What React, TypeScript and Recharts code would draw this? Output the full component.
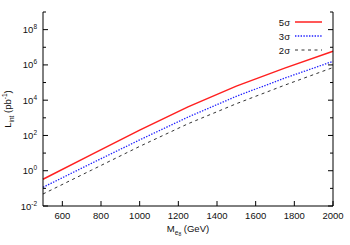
import { Line, LineChart, XAxis, YAxis } from "recharts";

// excited lepton mass (GeV)
const masses = [500, 750, 1000, 1250, 1500, 1750, 2000];
// required integrated luminosity (pb^-1)
const lum5sigma = [0.33, 8.1, 200, 4200, 63000, 660000, 5.9e6];
const lum3sigma = [0.115, 2.6, 56, 1100, 16600, 178000, 1.6e6];
const lum2sigma = [0.048, 1.07, 24, 460, 6300, 71000, 7.1e5];

const xTicks = [600, 800, 1000, 1200, 1400, 1600, 1800, 2000];
const yExponents = [-2, -1, 0, 1, 2, 3, 4, 5, 6, 7, 8, 9];
const yTicks = yExponents.map((e) => Number("1e" + e));

const data = masses.map((m, i) => ({
  m,
  s5: lum5sigma[i],
  s3: lum3sigma[i],
  s2: lum2sigma[i]
}));

const series = [
  { key: "s5", name: "5σ", color: "#ff2020", width: 1.5, dash: undefined as string | undefined },
  { key: "s3", name: "3σ", color: "#2020ff", width: 1.3, dash: "1.4 1.4" },
  { key: "s2", name: "2σ", color: "#333333", width: 1, dash: "3 3.5" }
];

const W = 350;
const H = 245;
const FONT = "'Liberation Sans', Arial, Helvetica, sans-serif";
const FS = 9.5;
const MARGIN = 4;

function LeftTick(props: any) {
  const { x, y, payload } = props;
  const ax = x + MARGIN;
  const exp = Math.round(Math.log10(payload.value));
  const major = exp % 2 === 0;
  return (
    <g>
      <line x1={ax} x2={ax + (major ? 5 : 3)} y1={y} y2={y} stroke="#000" />
      {major && exp < 9 && (
        <text x={ax - 6} y={y + 3.5} textAnchor="end" fontSize={FS} fontFamily={FONT} fill="#111">
          10
          <tspan dy={-4} fontSize={6.5}>
            {exp}
          </tspan>
        </text>
      )}
    </g>
  );
}

function RightTick(props: any) {
  const { x, y, payload } = props;
  const ax = x - MARGIN;
  const exp = Math.round(Math.log10(payload.value));
  const major = exp % 2 === 0;
  return <line x1={ax} x2={ax - (major ? 5 : 3)} y1={y} y2={y} stroke="#000" />;
}

function BottomTick(props: any) {
  const { x, y, payload } = props;
  const ay = y - MARGIN;
  return (
    <g>
      <line x1={x} x2={x} y1={ay} y2={ay - 5} stroke="#000" />
      <text x={x} y={ay + 12.5} textAnchor="middle" fontSize={FS} fontFamily={FONT} fill="#111">
        {payload.value}
      </text>
    </g>
  );
}

function TopTick(props: any) {
  const { x, y } = props;
  const ay = y + MARGIN;
  return <line x1={x} x2={x} y1={ay} y2={ay + 5} stroke="#000" />;
}

function YTitle(props: any) {
  const vb = props.viewBox;
  const cx = vb.x + 11;
  const cy = vb.y + vb.height / 2;
  return (
    <text
      x={cx}
      y={cy}
      transform={`rotate(-90 ${cx} ${cy})`}
      textAnchor="middle"
      fontSize={FS}
      fontFamily={FONT}
      fill="#111"
    >
      L
      <tspan dy={2.5} fontSize={6.5}>int</tspan>
      <tspan dy={-2.5}> (pb</tspan>
      <tspan dy={-4} fontSize={6.5}>-1</tspan>
      <tspan dy={4}>)</tspan>
    </text>
  );
}

function XTitle(props: any) {
  const vb = props.viewBox;
  const cx = vb.x + vb.width / 2;
  return (
    <text x={cx} y={vb.y + 26} textAnchor="middle" fontSize={FS} fontFamily={FONT} fill="#111">
      M
      <tspan dy={2.5} fontSize={6.5}>e</tspan>
      <tspan dy={1.5} fontSize={5}>8</tspan>
      <tspan dy={-4}> (GeV)</tspan>
    </text>
  );
}

function LegendBox() {
  return (
    <svg
      width={W}
      height={H}
      style={{ position: "absolute", left: 0, top: 0, pointerEvents: "none" }}
    >
      {series.map((s, i) => {
        const y = 22 + i * 14;
        return (
          <g key={s.key}>
            <text x={290} y={y + 3.5} textAnchor="end" fontSize={FS} fontFamily={FONT} fill="#111">
              {s.name}
            </text>
            <line
              x1={295}
              x2={322}
              y1={y}
              y2={y}
              stroke={s.color}
              strokeWidth={s.width}
              strokeDasharray={s.dash}
            />
          </g>
        );
      })}
    </svg>
  );
}

export default function App() {
  return (
    <div style={{ position: "absolute", left: 0, top: 0, width: W, height: H, background: "#fff" }}>
      <LineChart width={W} height={H} data={data} margin={{ top: 12, right: 0, bottom: 0, left: 0 }}>
        <XAxis
          dataKey="m"
          type="number"
          domain={[500, 2000]}
          ticks={xTicks}
          height={39}
          tickSize={0}
          tickMargin={MARGIN}
          tickLine={false}
          axisLine={{ stroke: "#000" }}
          tick={<BottomTick />}
          interval={0}
          label={<XTitle />}
        />
        <XAxis
          xAxisId="top"
          dataKey="m"
          type="number"
          orientation="top"
          domain={[500, 2000]}
          ticks={xTicks}
          height={0}
          tickSize={0}
          tickMargin={MARGIN}
          tickLine={false}
          axisLine={{ stroke: "#000" }}
          tick={<TopTick />}
          interval={0}
        />
        <YAxis
          scale="log"
          domain={[1e-2, 1e9]}
          allowDataOverflow
          ticks={yTicks}
          width={43}
          tickSize={0}
          tickMargin={MARGIN}
          tickLine={false}
          axisLine={{ stroke: "#000" }}
          tick={<LeftTick />}
          interval={0}
          label={<YTitle />}
        />
        <YAxis
          yAxisId="right"
          orientation="right"
          scale="log"
          domain={[1e-2, 1e9]}
          allowDataOverflow
          ticks={yTicks}
          width={17}
          tickSize={0}
          tickMargin={MARGIN}
          tickLine={false}
          axisLine={{ stroke: "#000" }}
          tick={<RightTick />}
          interval={0}
        />
        {series.map((s) => (
          <Line
            key={s.key}
            dataKey={s.key}
            type="linear"
            stroke={s.color}
            strokeWidth={s.width}
            strokeDasharray={s.dash}
            dot={false}
            activeDot={false}
            isAnimationActive={false}
          />
        ))}
      </LineChart>
      <LegendBox />
    </div>
  );
}
